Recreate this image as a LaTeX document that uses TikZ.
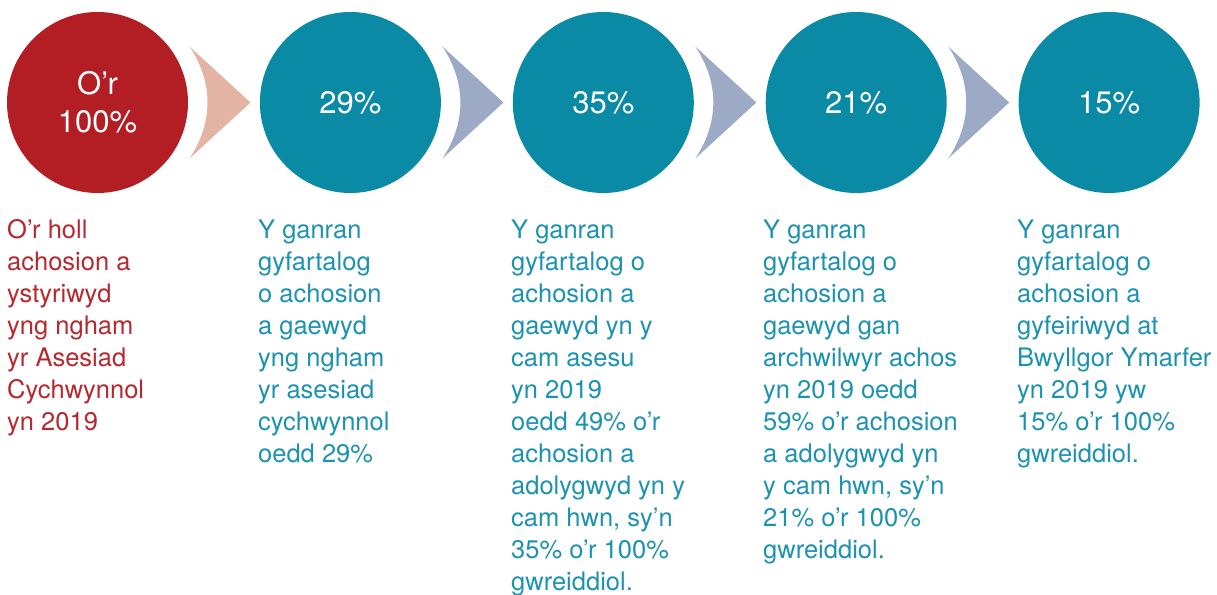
\documentclass[tikz,border=0pt]{standalone}
\usepackage{fontspec}
\setmainfont{TeX Gyre Heros}
\usetikzlibrary{positioning}
\definecolor{cwred}{HTML}{B31E24}
\definecolor{cwteal}{HTML}{0B8AA6}
\definecolor{cwredtxt}{HTML}{B7282E}
\definecolor{cwtealtxt}{HTML}{1C93AE}
\definecolor{chevpink}{HTML}{E3B4A3}
\definecolor{chevblue}{HTML}{9DAAC6}

\begin{document}
\begin{tikzpicture}[x=1pt,y=1pt,
    stage/.style={circle, fill=cwteal, minimum size=181pt, inner sep=0pt,
      text=white, align=center, font=\fontsize{31}{38}\selectfont},
    first/.style={stage, fill=cwred},
    desc/.style={anchor=north west, inner sep=0pt, align=left,
      text=cwtealtxt, font=\fontsize{25.5}{32}\selectfont}]
  \useasboundingbox (0,0) rectangle (1217,594);
  % Circles
  \node[first] (c1) at (97.5,491.5) {O’r\\100\%};
  \node[stage, right=71.5pt of c1] (c2) {29\%};
  \node[stage, right=71.5pt of c2] (c3) {35\%};
  \node[stage, right=71.5pt of c3] (c4) {21\%};
  \node[stage, right=71.5pt of c4] (c5) {15\%};
  % Chevrons
  \fill[chevpink, shift={(c1.center)}] (92,56) -- (153,0) -- (92,-56)
    .. controls (116,-20) and (116,20) .. cycle;
  \foreach \c in {c2,c3,c4}
    \fill[chevblue, shift={(\c.center)}] (92,56) -- (153,0) -- (92,-56)
      .. controls (116,-20) and (116,20) .. cycle;
  % Descriptions
  \node[desc, text=cwredtxt] (t1) at (7,374.5)
    {O’r holl\\achosion a\\ystyriwyd\\yng ngham\\yr Asesiad\\Cychwynnol\\yn 2019};
  \node[desc] (t2) at (258,374.5)
    {Y ganran\\gyfartalog\\o achosion\\a gaewyd\\yng ngham\\yr asesiad\\cychwynnol\\oedd 29\%};
  \node[desc] (t3) at (511,374.5)
    {Y ganran\\gyfartalog o\\achosion a\\gaewyd yn y\\cam asesu\\yn 2019\\oedd 49\% o’r\\achosion a\\adolygwyd yn y\\cam hwn, sy’n\\35\% o’r 100\%\\gwreiddiol.};
  \node[desc] (t4) at (763,374.5)
    {Y ganran\\gyfartalog o\\achosion a\\gaewyd gan\\archwilwyr achos\\yn 2019 oedd\\59\% o’r achosion\\a adolygwyd yn\\y cam hwn, sy’n\\21\% o’r 100\%\\gwreiddiol.};
  \node[desc] (t5) at (1017,374.5)
    {Y ganran\\gyfartalog o\\achosion a\\gyfeiriwyd at\\Bwyllgor Ymarfer\\yn 2019 yw\\15\% o’r 100\%\\gwreiddiol.};
\end{tikzpicture}
\end{document}
